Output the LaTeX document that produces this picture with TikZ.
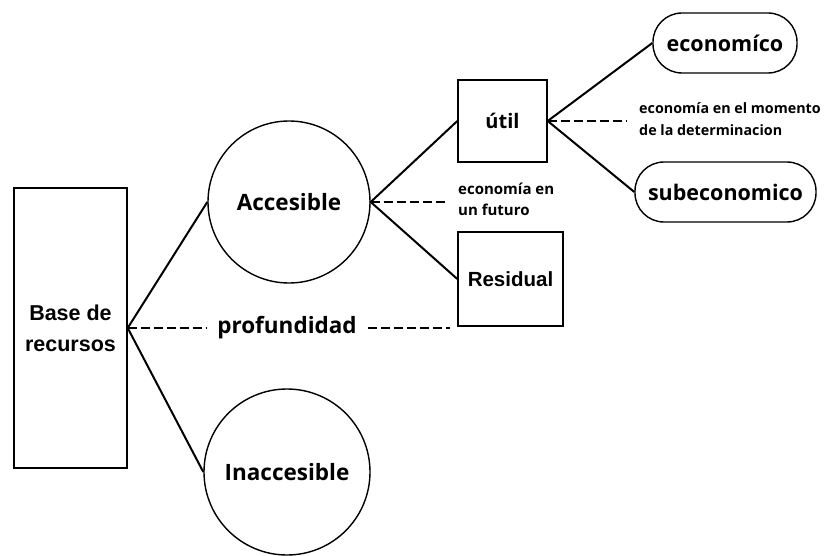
\documentclass[tikz,border=0pt]{standalone}
\usepackage{fontspec}
\setmainfont{Open Sans}
\newfontfamily\rbfont{Liberation Sans}
\tikzset{x=1pt,y=-1pt}
\tikzset{
  circnode/.style={draw,circle,line width=1.4pt,minimum size=162pt,inner sep=0pt,font=\bfseries\fontsize{22.5}{24}\selectfont},
  boxnode/.style={draw,rectangle,line width=1.4pt,inner sep=0pt,font=\rbfont\bfseries\fontsize{21.5}{31}\selectfont,align=center},
  pillnode/.style={draw,rounded corners=29pt,line width=1.4pt,inner sep=0pt,minimum height=60pt,font=\bfseries\fontsize{21.5}{24}\selectfont},
  branch/.style={line width=2pt},
  hint/.style={line width=2pt,dash pattern=on 9pt off 4pt},
  small/.style={font=\bfseries\fontsize{15}{21}\selectfont,align=left,inner sep=0pt}
}

\begin{document}
\begin{tikzpicture}
  \useasboundingbox (0,0) rectangle (829,556);
  % recursos
  \node[boxnode,minimum width=113pt,minimum height=280pt] (base) at (70.5,328) {Base de\\recursos};
  \node[circnode] (acc) at (289,202) {Accesible};
  \node[circnode,minimum size=166pt] (inacc) at (287,472) {Inaccesible};
  \node[boxnode,minimum width=105pt,minimum height=94pt,font=\rbfont\bfseries\fontsize{20.5}{24}\selectfont] (resid) at (510.5,279) {Residual};
  \node[boxnode,minimum width=89pt,minimum height=82pt,font=\bfseries\fontsize{20}{24}\selectfont] (util) at (502.5,121) {útil};
  \node[pillnode,minimum width=144pt] (econ) at (725,43) {economíco};
  \node[pillnode,minimum width=181pt] (subec) at (725.5,192) {subeconomico};
  % etiquetas
  \node[font=\bfseries\fontsize{22.5}{24}\selectfont,inner xsep=11pt] (prof) at (287,328) {profundidad};
  \node[small,anchor=west] (fut) at (458,199.5) {economía en\\un futuro};
  \node[small,anchor=west,font=\bfseries\fontsize{14.3}{22}\selectfont] (mom) at (639,119) {economía en el momento\\de la determinacion};
  \coordinate (profend) at (450,328);
  \coordinate (futend) at (448,202);
  \coordinate (momend) at (626,121);
  % ramas
  \draw[branch] (acc.west) -- (base.east) -- (inacc.west);
  \draw[branch] (util.west) -- (acc.east) -- (resid.west);
  \draw[branch] (econ.west) -- (util.east) -- (subec.west);
  \draw[hint] (base.east) -- (prof.west);
  \draw[hint] (prof.east) -- (profend);
  \draw[hint] (acc.east) -- (futend);
  \draw[hint] (util.east) -- (momend);
\end{tikzpicture}
\end{document}
